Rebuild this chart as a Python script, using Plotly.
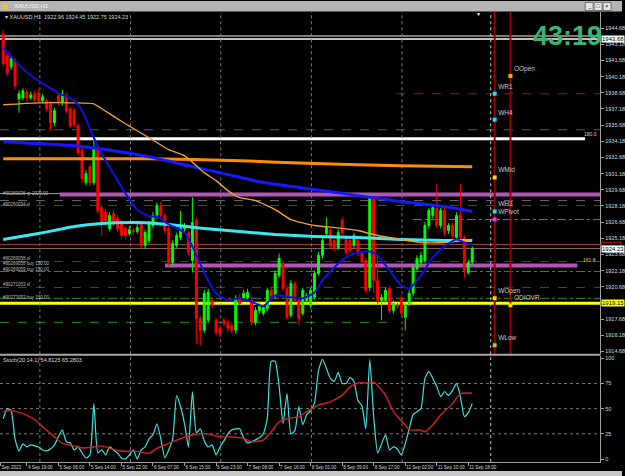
import plotly.graph_objects as go

W, H = 625, 476

# ---------------- data ----------------
first_bar = -6
bar_open = [1944.14, 1942.11, 1941.09, 1941.64, 1938.12, 1938.22, 1938.77, 1938.22, 1938.59, 1938.68,
            1937.94, 1937.94, 1937.66, 1935.90, 1938.40, 1937.75, 1938.40, 1937.20, 1937.01, 1935.62,
            1933.31, 1930.35, 1931.83, 1930.35, 1933.49, 1928.03, 1927.57, 1926.09, 1927.48, 1927.01,
            1926.55, 1926.09, 1925.62, 1925.90, 1925.81, 1926.55, 1924.51, 1924.98, 1926.37, 1927.29,
            1928.22, 1927.29, 1926.09, 1922.94, 1924.51, 1925.25, 1926.09, 1925.62, 1923.12, 1926.83,
            1917.75, 1916.64, 1917.57, 1919.42, 1917.57, 1916.83, 1917.57, 1917.38, 1917.11, 1916.64,
            1919.70, 1919.61, 1919.70, 1919.42, 1917.38, 1918.49, 1918.22, 1918.68, 1920.35, 1919.88,
            1921.74, 1922.85, 1920.53, 1918.03, 1920.99, 1919.42, 1918.22, 1919.42, 1918.96, 1919.70,
            1921.92, 1923.59, 1925.62, 1925.90, 1924.98, 1924.33, 1926.83, 1925.16, 1924.98, 1924.51,
            1924.98, 1923.77, 1923.12, 1920.62, 1928.87, 1921.27, 1919.42, 1919.42, 1920.53, 1918.49,
            1918.96, 1919.61, 1917.85, 1919.14, 1920.07, 1922.38, 1922.94, 1923.12, 1926.37, 1927.29,
            1927.94, 1926.37, 1927.75, 1925.90, 1926.37, 1925.25, 1927.29, 1925.25, 1922.01, 1922.96]
bar_high = [1944.50, 1942.40, 1942.10, 1941.90, 1938.90, 1939.10, 1939.00, 1938.80, 1938.90, 1939.00,
            1938.60, 1938.10, 1937.90, 1937.30, 1938.70, 1938.96, 1938.70, 1937.40, 1937.30, 1935.90,
            1933.60, 1931.50, 1932.10, 1934.51, 1933.80, 1928.30, 1927.90, 1927.60, 1927.80, 1927.30,
            1926.80, 1926.30, 1926.30, 1926.10, 1926.50, 1926.80, 1926.00, 1926.80, 1927.60, 1928.50,
            1928.60, 1927.50, 1926.30, 1925.00, 1925.70, 1927.75, 1926.60, 1925.90, 1929.00, 1927.10,
            1918.00, 1920.40, 1920.50, 1919.70, 1917.80, 1917.10, 1917.80, 1917.60, 1917.40, 1919.90,
            1920.00, 1920.40, 1920.50, 1919.70, 1918.80, 1919.30, 1919.00, 1920.60, 1920.60, 1922.20,
            1923.77, 1923.10, 1920.80, 1921.30, 1921.20, 1919.70, 1920.60, 1920.10, 1920.60, 1922.20,
            1923.90, 1925.30, 1927.11, 1926.20, 1925.20, 1926.00, 1927.10, 1925.40, 1925.30, 1925.70,
            1925.20, 1924.00, 1923.40, 1929.33, 1929.10, 1923.70, 1920.00, 1920.60, 1920.80, 1919.40,
            1919.20, 1919.90, 1919.20, 1920.40, 1922.80, 1923.60, 1923.90, 1926.70, 1928.00, 1928.30,
            1930.25, 1928.00, 1928.00, 1926.60, 1926.60, 1927.60, 1930.25, 1925.50, 1923.20, 1924.45]
bar_low = [1941.10, 1940.20, 1940.80, 1939.00, 1936.83, 1938.00, 1937.90, 1938.00, 1937.80, 1937.70,
           1937.70, 1937.00, 1935.16, 1935.60, 1937.50, 1937.50, 1936.80, 1935.40, 1935.50, 1932.90,
           1930.40, 1930.10, 1930.00, 1930.10, 1927.50, 1925.44, 1926.50, 1925.80, 1926.30, 1925.80,
           1925.10, 1925.10, 1925.40, 1925.50, 1925.60, 1924.20, 1924.20, 1924.70, 1926.10, 1927.00,
           1927.00, 1925.60, 1922.60, 1922.70, 1924.30, 1925.00, 1925.80, 1923.60, 1922.00, 1915.44,
           1915.25, 1916.40, 1917.30, 1918.70, 1916.20, 1916.00, 1917.00, 1916.50, 1916.30, 1916.30,
           1918.90, 1919.40, 1919.50, 1917.10, 1917.10, 1918.20, 1918.00, 1918.40, 1919.60, 1919.60,
           1921.50, 1920.30, 1917.60, 1917.80, 1919.20, 1917.20, 1918.00, 1919.20, 1918.70, 1919.50,
           1921.70, 1923.30, 1925.40, 1924.20, 1924.00, 1924.10, 1925.40, 1923.60, 1923.80, 1924.30,
           1923.50, 1922.90, 1920.10, 1920.30, 1920.10, 1919.10, 1917.57, 1919.20, 1918.20, 1918.20,
           1918.60, 1917.90, 1916.64, 1918.90, 1919.80, 1922.10, 1922.70, 1922.90, 1926.10, 1927.00,
           1926.10, 1926.10, 1925.40, 1925.60, 1925.20, 1925.00, 1925.00, 1921.46, 1921.80, 1922.75]
bar_close = [1941.37, 1940.53, 1941.83, 1939.33, 1938.59, 1938.86, 1938.22, 1938.49, 1938.03, 1937.94,
             1938.31, 1937.20, 1935.90, 1937.01, 1937.75, 1938.59, 1937.01, 1935.62, 1935.72, 1933.12,
             1930.72, 1931.18, 1930.35, 1933.59, 1927.75, 1926.64, 1926.83, 1927.29, 1926.64, 1926.09,
             1925.44, 1925.44, 1925.99, 1925.81, 1926.18, 1924.51, 1925.72, 1926.55, 1927.29, 1928.22,
             1927.29, 1925.90, 1922.94, 1924.70, 1925.44, 1926.18, 1926.37, 1923.86, 1926.64, 1917.75,
             1916.64, 1920.07, 1920.16, 1918.96, 1916.46, 1916.37, 1917.29, 1916.83, 1916.64, 1919.61,
             1919.14, 1920.07, 1920.16, 1917.38, 1918.49, 1918.96, 1918.77, 1920.35, 1919.88, 1921.92,
             1923.31, 1920.53, 1917.85, 1920.99, 1919.42, 1917.75, 1920.35, 1919.88, 1920.35, 1921.92,
             1923.59, 1924.98, 1926.18, 1924.51, 1924.33, 1925.72, 1925.72, 1923.86, 1924.05, 1925.44,
             1923.77, 1923.12, 1920.35, 1928.87, 1921.27, 1919.42, 1919.70, 1920.35, 1918.49, 1919.14,
             1918.90, 1918.22, 1918.96, 1920.07, 1922.48, 1923.31, 1923.59, 1926.37, 1927.75, 1928.03,
             1926.37, 1927.75, 1925.72, 1926.37, 1925.44, 1927.29, 1925.25, 1922.20, 1922.94, 1924.23]

# moving averages (bar index, price)
ma_fast_bars = [-6, -1, 3, 8, 12, 14, 17, 19, 22, 25, 28, 31, 33, 36, 40, 42, 45, 48, 51, 54, 58,
                60, 63, 67, 70, 73, 75, 78, 81, 84, 87, 89, 92, 95, 97, 100, 103, 106, 109, 111, 113]
ma_fast_vals = [1942.85, 1940.90, 1939.79, 1938.68, 1937.94, 1937.01, 1934.51, 1933.03, 1931.18, 1929.33,
                1927.85, 1927.20, 1927.20, 1926.46, 1925.72, 1924.42, 1922.01, 1920.07, 1919.42, 1919.61,
                1919.14, 1918.87, 1919.88, 1919.70, 1919.61, 1920.16, 1921.27, 1922.48, 1923.40, 1923.86,
                1923.96, 1923.59, 1922.20, 1920.81, 1920.53, 1921.74, 1923.40, 1924.42, 1925.07, 1924.79,
                1924.61]
ma_gold_bars = [-6, 3, 12, 17, 19, 25, 31, 36, 40, 45, 48, 51, 54, 58, 63, 67, 73, 78, 84, 89, 95,
                100, 106, 111, 113]
ma_gold_vals = [1937.57, 1937.75, 1937.75, 1937.66, 1937.20, 1935.81, 1934.51, 1933.40, 1932.85, 1931.27,
                1930.53, 1929.61, 1928.96, 1928.68, 1927.85, 1926.92, 1926.37, 1926.18, 1925.90, 1925.44,
                1925.07, 1924.79, 1924.79, 1924.98, 1925.07]
ma_cyan_bars = [-6, 3, 12, 19, 28, 36, 45, 54, 63, 73, 84, 95, 106, 113]
ma_cyan_vals = [1925.07, 1925.62, 1926.27, 1926.55, 1926.64, 1926.46, 1926.09, 1925.81, 1925.53, 1925.35,
                1925.25, 1925.07, 1924.98, 1924.98]
ma_long_blue_bars = [-6, 12, 22, 31, 42, 51, 60, 73, 84, 95, 106, 113]
ma_long_blue_vals = [1934.14, 1933.77, 1933.31, 1932.75, 1931.83, 1931.09, 1930.35, 1929.70, 1929.14,
                     1928.59, 1928.12, 1927.66]
ma_long_orange_bars = [-6, 31, 54, 73, 95, 113]
ma_long_orange_vals = [1932.57, 1932.57, 1932.38, 1932.11, 1931.92, 1931.83]

# stochastic
stoch_k = [40, 50, 48, 20, 8, 15, 12, 14, 13, 12, 9, 8, 10, 14, 22, 29, 17, 16, 9, 12,
           6, 1, 4, 55, 6, 9, 4, 12, 9, 6, 1, 0, 4, 9, 0, 9, 12, 20, 24, 35,
           20, 1, 9, 20, 63, 52, 35, 12, 67, 26, 30, 18, 12, 14, 4, 12, 18, 25, 29, 30,
           30, 21, 16, 17, 19, 21, 25, 40, 97, 97, 72, 35, 65, 25, 28, 52, 34, 44, 48, 56,
           88, 99, 90, 80, 77, 86, 75, 75, 81, 77, 58, 53, 30, 99, 42, 6, 15, 24, 9, 12,
           10, 4, 15, 30, 44, 47, 50, 80, 87, 80, 72, 62, 67, 63, 68, 75, 62, 42, 46, 55]
stoch_d_bars = [-6, -4, -1, 2, 4, 7, 9, 12, 14, 17, 19, 21, 24, 28, 31, 33, 35, 38, 42, 45,
                49, 52, 55, 57, 60, 62, 64, 66, 69, 71, 74, 77, 80, 82, 84, 87, 88, 91, 93, 96,
                97, 100, 101, 103, 105, 108, 110, 113]
stoch_d_vals = [47, 48, 45, 39, 32, 22, 15.5, 13, 11, 12, 13, 10.6, 8, 7.6, 5.6, 10.6, 13.9, 18.8, 23.8, 25.4,
                22, 22, 20.5, 17.2, 18.8, 27, 37, 40, 42, 47, 53.5, 56.8, 63.4, 71.6, 75.5, 75.5, 76.5, 63.4, 47, 33.7,
                29, 28.7, 27, 34, 43.6, 55, 65, 65.3]
stoch_levels = [25, 50, 75]

# horizontal price levels
level_prices = [1943.96, 1943.68, 1938.59, 1935.25, 1934.42, 1929.33, 1929.24, 1928.68, 1928.22,
                1926.92, 1924.60, 1924.23, 1923.03, 1922.66, 1922.10, 1920.62, 1919.61, 1919.15, 1917.38]

# pivot points
pivot_names = ["OOpen", "WR1", "WH4", "WMid", "WH3", "WPivot", "WOpen", "ODIOVR", "WLow"]
pivot_prices = [1940.25, 1938.59, 1936.18, 1930.81, 1927.66, 1926.92, 1919.61, 1918.96, 1915.25]
pivot_bars = [122.7, 118.7, 118.7, 118.7, 118.7, 118.7, 118.7, 122.7, 118.7]
period_lines_bars = [118.7, 122.7]
grid_bars = [3.3, 26.3, 49.2, 72.2, 95.2, 117.7]

# order labels
order_texts = ["#90260036 tp 1929.00", "#90260034 sl", "#90269058 sl", "#90269058 buy 150.00",
               "#90269059 buy 150.00", "#90271053 sl", "#90273053 buy 150.00"]
order_prices = [1929.33, 1928.31, 1923.31, 1922.85, 1922.25, 1920.90, 1919.70]

price_ticks = [1914.68 + 1.5 * k for k in range(21)]
time_label_bars = [-6.7, 0, 8, 16, 24, 32, 40, 48, 56, 64, 72, 80, 88, 96, 104, 112]
time_labels = ["Sep 2023", "4 Sep 19:00", "5 Sep 06:00", "5 Sep 14:00", "5 Sep 22:00", "6 Sep 07:00",
               "6 Sep 15:00", "6 Sep 23:00", "7 Sep 08:00", "7 Sep 16:00", "8 Sep 01:00", "8 Sep 09:00",
               "8 Sep 17:00", "11 Sep 02:00", "11 Sep 10:00", "11 Sep 18:00"]

# ---------------- figure ----------------
FONT = "Liberation Sans"
x_bars = list(range(first_bar, first_bar + len(bar_open)))
fig = go.Figure()

def line(xs, ys, color, width, xa="x", ya="y"):
    fig.add_trace(go.Scatter(x=xs, y=ys, mode="lines", xaxis=xa, yaxis=ya,
                             line=dict(color=color, width=width, shape="spline", smoothing=0.5),
                             hoverinfo="skip", showlegend=False))

level_styles = [
    ("#a8a890", "solid", 1.5, 0, 1), ("#ffffff", "solid", 1.5, 0, 1), ("#8b1a1a", "dash", 1, 0.66, 1),
    ("#5a5a5a", "dash", 1, 0, 1), ("#ffffff", "solid", 3, 0, 0.975), ("#a0a070", "solid", 1, 0, 1),
    ("#b355b8", "solid", 4, 0.0995, 1), ("#6a6a6a", "dash", 1, 0, 1), ("#a02020", "dash", 1, 0, 1),
    ("#707070", "dashdot", 1, 0.688, 1), ("#9b4040", "solid", 1, 0, 1), ("#7d6b6b", "solid", 1, 0, 1),
    ("#a02020", "dash", 1, 0, 1), ("#b355b8", "solid", 4, 0.275, 0.962), ("#2f8a2f", "dashdot", 1, 0, 1),
    ("#a02020", "dash", 1, 0, 1), ("#2f8a2f", "dashdot", 1, 0, 1), ("#ffff00", "solid", 3, 0, 1),
    ("#2f8a2f", "dash", 1, 0, 0.66),
]
shapes = []
for p, (c, d, w, a, b) in zip(level_prices, level_styles):
    shapes.append(dict(type="line", xref="x domain", yref="y", x0=a, x1=b, y0=p, y1=p,
                       line=dict(color=c, width=w, dash=d), layer="below"))
for gb in grid_bars:
    col = "#c8c8c8" if gb == grid_bars[-1] else "#7a7a7a"
    for yr in ("y domain", "y2 domain"):
        shapes.append(dict(type="line", xref="x", yref=yr, x0=gb, x1=gb, y0=0, y1=1,
                           line=dict(color=col, width=1, dash="dot"), layer="below"))
for vb in period_lines_bars:
    shapes.append(dict(type="line", xref="x", yref="y domain", x0=vb, x1=vb, y0=0, y1=1,
                       line=dict(color="#990000", width=2), layer="below"))
for lv in stoch_levels:
    shapes.append(dict(type="line", xref="x domain", yref="y2", x0=0, x1=1, y0=lv, y1=lv,
                       line=dict(color="#7a7a7a", width=1, dash="dot"), layer="below"))
# ask price marker on the axis (thin red box)
shapes.append(dict(type="rect", xref="paper", yref="y", x0=604 / W, x1=624 / W,
                   y0=level_prices[10] - 0.12, y1=level_prices[10] + 0.22,
                   fillcolor="#000000", line=dict(color="#d01010", width=1)))
# window chrome
shapes.append(dict(type="rect", xref="paper", yref="paper", x0=0, x1=1, y0=1 - 10.5 / H, y1=1,
                   fillcolor="#b4b4b4", line=dict(width=0)))
shapes.append(dict(type="rect", xref="paper", yref="paper", x0=0, x1=1, y0=0, y1=1 - 471 / H,
                   fillcolor="#c8c8c8", line=dict(width=0)))
shapes.append(dict(type="line", xref="paper", yref="paper", x0=0, x1=603.5 / W, y0=1 - 354.5 / H,
                   y1=1 - 354.5 / H, line=dict(color="#a8a8a8", width=2)))
shapes.append(dict(type="rect", xref="paper", yref="paper", x0=2 / W, x1=8 / W, y0=1 - 8.5 / H,
                   y1=1 - 2.5 / H, fillcolor="#e0c060", line=dict(width=0)))
for k, bx in enumerate([588, 597, 606]):
    shapes.append(dict(type="rect", xref="paper", yref="paper", x0=bx / W, x1=(bx + 8) / W,
                       y0=1 - 9.5 / H, y1=1 - 1.5 / H, fillcolor="#e6e6e6",
                       line=dict(color="#707070", width=1)))

# moving averages
line(ma_long_orange_bars, ma_long_orange_vals, "#ff8c00", 3)
line(ma_long_blue_bars, ma_long_blue_vals, "#1818ff", 3)
line(ma_cyan_bars, ma_cyan_vals, "#3ce8f0", 3)
line(ma_gold_bars, ma_gold_vals, "#f0a030", 1.4)

fig.add_trace(go.Candlestick(
    x=x_bars, open=bar_open, high=bar_high, low=bar_low, close=bar_close,
    increasing=dict(line=dict(color="#00ff00", width=1), fillcolor="#00ff00"),
    decreasing=dict(line=dict(color="#ff0000", width=1), fillcolor="#ff0000"),
    whiskerwidth=0, hoverinfo="skip", showlegend=False, xaxis="x", yaxis="y"))

line(ma_fast_bars, ma_fast_vals, "#1010e0", 2)

# pivot markers
pivot_colors = ["#ffa500", "#30d8e8", "#30d8e8", "#ffd700", "#30d8e8", "#ff30ff", "#ffd700", "#ffd700", "#9acd32"]
fig.add_trace(go.Scatter(x=pivot_bars, y=pivot_prices, mode="markers+text", text=pivot_names,
                         textposition="top right", xaxis="x", yaxis="y",
                         textfont=dict(family=FONT, size=6.5, color="#c8c8c8"),
                         marker=dict(symbol="square", size=4, color=pivot_colors),
                         hoverinfo="skip", showlegend=False))

# stochastic
line(x_bars, stoch_k, "#40e0e0", 1.2, "x2", "y2")
line(stoch_d_bars, stoch_d_vals, "#d42020", 1.4, "x2", "y2")

ann = []
small = dict(family=FONT, size=5.5, color="#d8d8d8")
ann.append(dict(xref="paper", yref="paper", x=3 / W, y=1 - 16 / H, xanchor="left", yanchor="middle",
                text="▾ XAUUSD,H1  1922.96 1924.45 1922.75 1924.23", showarrow=False, font=small))
ann.append(dict(xref="paper", yref="paper", x=1 / W, y=1 - 359.5 / H, xanchor="left", yanchor="middle",
                text="Stoch(20,14,1) 54.8125 65.2803", showarrow=False, font=small))
ann.append(dict(xref="paper", yref="paper", x=12 / W, y=1 - 5.5 / H, xanchor="left", yanchor="middle",
                text="XAUUSD,H1", showarrow=False, font=dict(family=FONT, size=6, color="#f4f4f4")))
for k, s in enumerate(["_", "□", "×"]):
    ann.append(dict(xref="paper", yref="paper", x=(592 + 9 * k) / W, y=1 - 5.5 / H, xanchor="center",
                    yanchor="middle", text=s, showarrow=False, font=dict(family=FONT, size=6, color="#202020")))
ann.append(dict(xref="paper", yref="paper", x=570 / W, y=1 - 35 / H, xanchor="center", yanchor="middle",
                text="<b>43:19</b>", showarrow=False, font=dict(family=FONT, size=27, color="#3cb371")))
ann.append(dict(xref="paper", yref="paper", x=481 / W, y=1 - 13 / H, xanchor="center", yanchor="middle",
                text="▼", showarrow=False, font=dict(family=FONT, size=5, color="#ffffff")))
ann.append(dict(xref="paper", yref="y", x=602 / W, y=level_prices[4], xanchor="right", yanchor="bottom",
                text="180.0", showarrow=False, font=dict(family=FONT, size=5, color="#d8d890")))
ann.append(dict(xref="paper", yref="y", x=601 / W, y=level_prices[13], xanchor="right", yanchor="bottom",
                text="161.8", showarrow=False, font=dict(family=FONT, size=5, color="#d8d890")))
for t, p in zip(order_texts, order_prices):
    ann.append(dict(xref="paper", yref="y", x=1 / W, y=p, xanchor="left", yanchor="middle", text=t,
                    showarrow=False, font=dict(family=FONT, size=4.5, color="#b8b8b8")))
# boxed price labels on the axis
boxed = [(level_prices[1], "#ffffff", "#000000"),
         (level_prices[11], "#ffffff", "#000000"), (level_prices[17], "#ffff00", "#000000")]
for p, bg, fg in boxed:
    ann.append(dict(xref="paper", yref="y", x=604 / W, y=p, xanchor="left", yanchor="middle",
                    text=f"{p:.2f}", showarrow=False, bgcolor=bg, borderpad=0,
                    font=dict(family=FONT, size=6, color=fg)))

# tick labels hidden where a boxed price label covers them
tick_text = []
for v in price_ticks:
    covered = any(abs(v - b[0]) < 0.3 for b in boxed)
    tick_text.append("" if covered else f"{v:.2f}")

axis_font = dict(family=FONT, size=5.5, color="#d8d8d8")
time_font = dict(family=FONT, size=4.6, color="#d8d8d8")
xrange = [-6.82, 145.45]
xdom = [0, 603 / W]
fig.update_layout(
    width=W, height=H, margin=dict(l=0, r=0, t=0, b=0),
    paper_bgcolor="#000000", plot_bgcolor="#000000", showlegend=False,
    shapes=shapes, annotations=ann,
    xaxis=dict(domain=xdom, range=xrange, anchor="y", showticklabels=False, showgrid=False,
               zeroline=False, rangeslider=dict(visible=False), fixedrange=True),
    yaxis=dict(domain=[1 - 354 / H, 1 - 11 / H], range=[1914.42, 1946.18], anchor="x", side="right",
               tickvals=price_ticks, ticktext=tick_text, tickfont=axis_font,
               showgrid=False, zeroline=False, showline=True, linecolor="#a0a0a0", linewidth=1,
               ticks="outside", ticklen=3, tickcolor="#a0a0a0"),
    xaxis2=dict(domain=xdom, range=xrange, anchor="y2", tickvals=time_label_bars, ticktext=time_labels,
                ticklabelposition="outside right", tickangle=0, tickfont=time_font, showgrid=False,
                zeroline=False, showline=True, linecolor="#a0a0a0", ticks="outside", ticklen=3,
                tickcolor="#a0a0a0"),
    yaxis2=dict(domain=[1 - 462 / H, 1 - 356 / H], range=[-3, 102], anchor="x2", side="right",
                tickvals=[0, 25, 50, 75, 100], tickfont=axis_font, showgrid=False, zeroline=False,
                showline=True, linecolor="#a0a0a0", ticks="outside", ticklen=3, tickcolor="#a0a0a0"),
)

fig.write_html("out.html")
